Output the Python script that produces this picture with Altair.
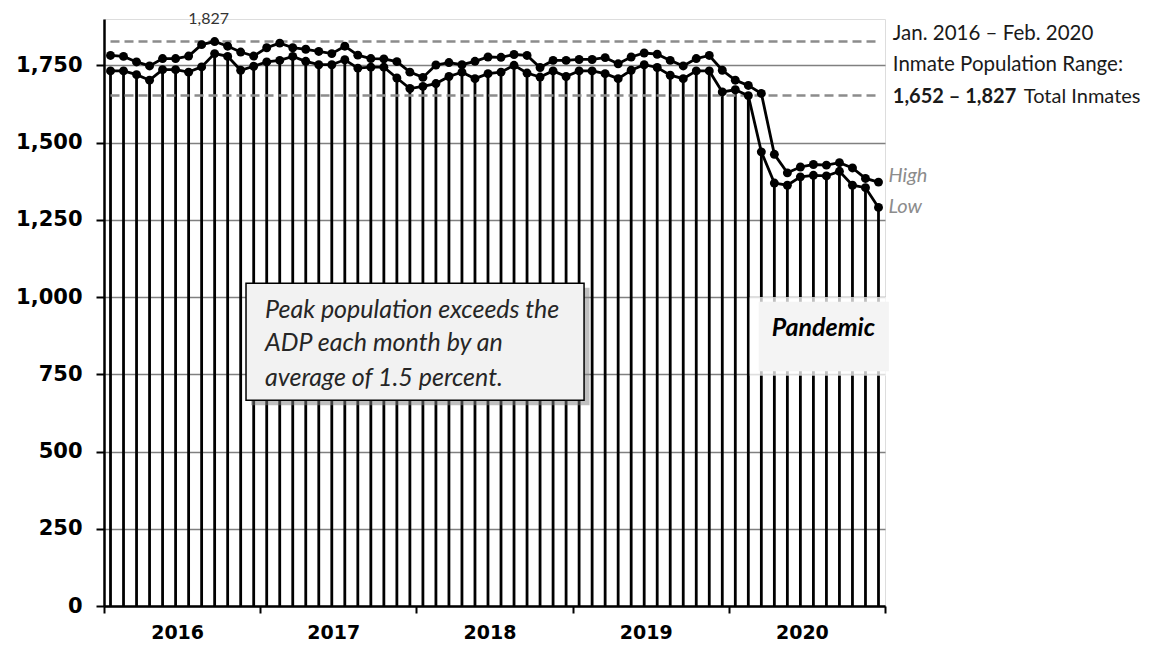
import altair as alt
import pandas as pd

# ---- data ----
high = [1782, 1779, 1761, 1748, 1772, 1772, 1780, 1817, 1827, 1812, 1793, 1780,
        1807, 1822, 1807, 1802, 1795, 1788, 1812, 1783, 1772, 1771, 1762, 1728,
        1711, 1751, 1759, 1752, 1763, 1777, 1776, 1785, 1782, 1743, 1766, 1766,
        1769, 1769, 1775, 1755, 1777, 1790, 1786, 1766, 1748, 1772, 1782, 1734,
        1702, 1685, 1659, 1462, 1402, 1421, 1429, 1427, 1435, 1418, 1384, 1372]
low = [1732, 1732, 1720, 1702, 1736, 1736, 1728, 1745, 1788, 1779, 1734, 1747,
       1761, 1766, 1779, 1763, 1752, 1752, 1768, 1741, 1744, 1744, 1709, 1675,
       1682, 1691, 1714, 1728, 1707, 1723, 1728, 1750, 1725, 1712, 1732, 1714,
       1732, 1732, 1723, 1707, 1734, 1752, 1743, 1718, 1707, 1732, 1732, 1664,
       1671, 1652, 1470, 1369, 1362, 1389, 1394, 1392, 1407, 1362, 1354, 1290]
years = [2016, 2017, 2018, 2019, 2020]
y_ticks = [0, 250, 500, 750, 1000, 1250, 1500, 1750]
range_min, range_max = 1652, 1827

month_pos = [i + 0.5 for i in range(len(high))]
df = pd.DataFrame({"m": month_pos, "high": high, "low": low, "zero": 0})

x_scale = alt.Scale(domain=[0, 60], nice=False, zero=False)
y_scale = alt.Scale(domain=[0, 1900], nice=False)

x_axis = alt.Axis(
    values=list(range(0, 61, 6)),
    labelExpr="datum.value % 12 == 6 ? '' + (2016 + floor(datum.value / 12)) : ''",
    tickOpacity={"condition": {"test": "datum.value % 12 == 0", "value": 1}, "value": 0},
    tickSize=7, tickWidth=2, tickColor="black",
    domainColor="black", domainWidth=2.5,
    labelFont="DejaVu Sans", labelFontWeight="bold", labelFontSize=19,
    labelColor="black", labelPadding=10, labelOffset=-5,
    labelOverlap=False, labelFlush=False,
    grid=False, title=None,
)
y_axis = alt.Axis(
    values=y_ticks, format=",.0f",
    tickSize=8, tickWidth=2, tickColor="black",
    domainColor="black", domainWidth=2.5,
    labelFont="DejaVu Sans", labelFontWeight="bold", labelFontSize=21,
    labelColor="black", labelPadding=14,
    grid=True, gridColor="#808080", gridWidth=1.5, title=None,
)

base = alt.Chart(df)

drops = base.mark_rule(color="black", strokeWidth=2.8).encode(
    x=alt.X("m:Q", scale=x_scale, axis=x_axis),
    y=alt.Y("low:Q", scale=y_scale, axis=y_axis),
    y2="zero:Q",
)

ref_df = pd.DataFrame({"x1": [0.5, 0.5], "x2": [59.5, 59.5], "v": [range_max, range_min]})
refs = alt.Chart(ref_df).mark_rule(color="#8c8c8c", strokeWidth=2.5, strokeDash=[9, 5]).encode(
    x="x1:Q", x2="x2:Q", y="v:Q"
)

pt = alt.OverlayMarkDef(filled=True, color="black", size=80, opacity=1)
line_high = base.mark_line(color="black", strokeWidth=2.8, point=pt).encode(x="m:Q", y="high:Q")
line_low = base.mark_line(color="black", strokeWidth=2.8, point=pt).encode(x="m:Q", y="low:Q")

# peak label
peak_df = pd.DataFrame({"m": [month_pos[high.index(max(high))]], "v": [max(high)], "t": ["1,827"]})
peak_lbl = alt.Chart(peak_df).mark_text(font="Lato", fontSize=16, color="#333333",
                                        baseline="middle", dx=-6, dy=-23).encode(
    x="m:Q", y="v:Q", text="t:N"
)

# High / Low labels
hl_df_h = pd.DataFrame({"m": [month_pos[-1]], "v": [high[-1]], "t": ["High"]})
hl_df_l = pd.DataFrame({"m": [month_pos[-1]], "v": [low[-1]], "t": ["Low"]})
hl_high = alt.Chart(hl_df_h).mark_text(font="Lato", fontStyle="italic", fontSize=20,
                                       color="#8c8c8c", align="left", baseline="middle",
                                       dx=10, dy=-6).encode(x="m:Q", y="v:Q", text="t:N")
hl_low = alt.Chart(hl_df_l).mark_text(font="Lato", fontStyle="italic", fontSize=20,
                                      color="#8c8c8c", align="left", baseline="middle",
                                      dx=10, dy=0).encode(x="m:Q", y="v:Q", text="t:N")

# right-side range text
rt_df = pd.DataFrame({"x": [60.6, 60.6], "v": [1853, 1750],
                      "t": ["Jan. 2016 \u2013 Feb. 2020", "Inmate Population Range:"]})
right_txt = alt.Chart(rt_df).mark_text(font="Lato", fontSize=20.5, color="#1a1a1a", align="left",
                                       baseline="middle").encode(x="x:Q", y="v:Q", text="t:N")
rb_df = pd.DataFrame({"x": [60.6], "v": [1648], "t": ["1,652 \u2013 1,827"]})
right_bold = alt.Chart(rb_df).mark_text(font="Lato", fontSize=20, fontWeight="bold", color="#1a1a1a",
                                        align="left", baseline="middle").encode(x="x:Q", y="v:Q", text="t:N")
rn_df = pd.DataFrame({"x": [60.6], "v": [1648], "t": ["Total Inmates"]})
right_norm = alt.Chart(rn_df).mark_text(font="Lato", fontSize=20, color="#1a1a1a", dx=131,
                                        align="left", baseline="middle").encode(x="x:Q", y="v:Q", text="t:N")

# annotation box
box_df = pd.DataFrame({"x1": [10.91], "x2": [36.88], "y1": [666], "y2": [1045]})
shadow_df = pd.DataFrame({"x1": [11.3], "x2": [37.3], "y1": [650], "y2": [1030]})
shadow = alt.Chart(shadow_df).mark_rect(color="#7f7f7f", opacity=0.5).encode(
    x="x1:Q", x2="x2:Q", y="y1:Q", y2="y2:Q")
box = alt.Chart(box_df).mark_rect(fill="#f2f2f2", stroke="black", strokeWidth=1.5).encode(
    x="x1:Q", x2="x2:Q", y="y1:Q", y2="y2:Q")
note_df = pd.DataFrame({"x": [12.37] * 3, "v": [957.5, 850.7, 737.5],
                        "t": ["Peak population exceeds the", "ADP each month by an",
                              "average of 1.5 percent."]})
note = alt.Chart(note_df).mark_text(font="Lato", fontStyle="italic", fontSize=25, color="#262626",
                                    align="left", baseline="middle").encode(x="x:Q", y="v:Q", text="t:N")

# pandemic box
pg_df = pd.DataFrame({"x1": [49.6], "x2": [60.9], "y1": [745], "y2": [1000]})
pi_df = pd.DataFrame({"x1": [50.3], "x2": [60.3], "y1": [760], "y2": [985]})
pglow = alt.Chart(pg_df).mark_rect(color="#ffffff", opacity=0.75).encode(
    x="x1:Q", x2="x2:Q", y="y1:Q", y2="y2:Q")
pinner = alt.Chart(pi_df).mark_rect(color="#f4f4f4", opacity=1).encode(
    x="x1:Q", x2="x2:Q", y="y1:Q", y2="y2:Q")
pt_df = pd.DataFrame({"x": [55.27], "v": [899], "t": ["Pandemic"]})
ptext = alt.Chart(pt_df).mark_text(font="Lato", fontStyle="italic", fontWeight="bold", fontSize=25,
                                   color="black", align="center", baseline="middle").encode(
    x="x:Q", y="v:Q", text="t:N")

chart = alt.layer(
    drops, refs, line_high, line_low, peak_lbl, hl_high, hl_low,
    right_txt, right_bold, right_norm,
    shadow, box, note, pglow, pinner, ptext,
).properties(
    width=781, height=587,
    autosize=alt.AutoSizeParams(type="none"),
    padding={"left": 96, "top": 11, "right": 262, "bottom": 36},
).configure_view(stroke=None).configure(background="white")

chart.save("out.html", embed_options={"renderer": "svg", "actions": False})
